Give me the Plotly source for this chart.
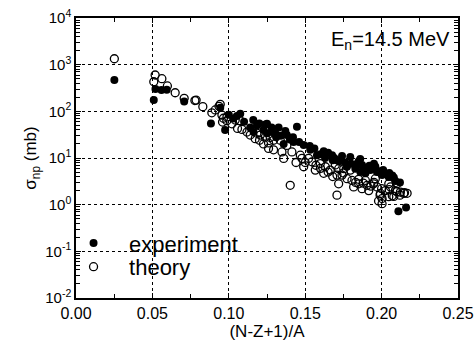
import plotly.graph_objects as go

# experiment (filled)
exp_x = [0.0251, 0.0520, 0.0559, 0.0594, 0.0509, 0.0708,
         0.0883, 0.0976, 0.0944, 0.1075, 0.1053, 0.1184, 0.1250, 0.1227, 0.1282, 0.1304,
         0.1162, 0.1250, 0.1326, 0.1380, 0.1446, 0.1424, 0.1490, 0.1533, 0.1621, 0.1676,
         0.1741, 0.1708, 0.1577, 0.1359, 0.1795, 0.1828, 0.1861, 0.1894, 0.1927, 0.1959,
         0.2003, 0.2047, 0.2080, 0.1773, 0.1872, 0.1959, 0.2110, 0.2160, 0.1240, 0.1100,
         0.1140, 0.1310, 0.1400, 0.1560, 0.1650, 0.1690, 0.1840, 0.1910, 0.1990, 0.2030,
         0.1600, 0.1630, 0.1680, 0.1720, 0.1760, 0.1800, 0.1850, 0.1880, 0.1920, 0.1970,
         0.2010, 0.2050, 0.2070, 0.2090, 0.2120, 0.1860, 0.1950, 0.1530, 0.1460, 0.1420,
         0.1340, 0.1370, 0.1280, 0.1200, 0.1160, 0.1030, 0.1000]
exp_y = [470, 300, 285, 290, 175, 162,
         55, 40, 120, 89, 79, 50, 54, 40, 36, 34,
         36, 34, 45, 31, 47, 22, 19, 15, 14, 11.5,
         11, 8.9, 11.5, 20, 10.5, 5.9, 5.0, 4.7, 5.5, 5.9,
         4.3, 3.9, 3.8, 6.5, 7.1, 6.6, 0.72, 0.87, 52, 60,
         45, 28, 25, 16, 13, 10, 7.5, 6.2, 5.2, 4.6,
         12, 10, 9, 8.5, 8, 7.5, 8.5, 6, 6.8, 5.0,
         5.5, 4.8, 4.2, 3.2, 3.0, 9.5, 7.5, 18, 22, 28,
         30, 38, 45, 55, 65, 70, 85]

# theory (open)
th_x = [0.0251, 0.0518, 0.0509, 0.0562, 0.0598, 0.0649, 0.0708, 0.0778, 0.0830,
        0.0786, 0.0889, 0.0911, 0.0944, 0.0955, 0.0965, 0.0987, 0.1020, 0.1042, 0.1057,
        0.1086, 0.1075, 0.1119, 0.1140, 0.1173, 0.1201, 0.1227, 0.1260, 0.1260, 0.1293,
        0.1206, 0.1239, 0.1271, 0.1184, 0.0936, 0.0959, 0.0988,
        0.1293, 0.1348, 0.1337, 0.1413, 0.1468, 0.1479, 0.1490, 0.1522, 0.1544, 0.1566,
        0.1599, 0.1621, 0.1632, 0.1664, 0.1697, 0.1708, 0.1741, 0.1752, 0.1402, 0.1359,
        0.1380, 0.1719, 0.1774, 0.1806, 0.1817, 0.1850, 0.1872, 0.1905, 0.1916, 0.1948,
        0.1970, 0.1992, 0.2003, 0.2025, 0.2058, 0.2090, 0.2123, 0.2145, 0.2047, 0.2003,
        0.1719, 0.1708, 0.1795, 0.1894, 0.1959, 0.2047, 0.2101, 0.2167, 0.1440, 0.1600,
        0.1680, 0.1830, 0.1880, 0.1930, 0.1990, 0.2070, 0.2120,
        0.1500, 0.1570, 0.1650, 0.1750, 0.1850, 0.1950, 0.2000, 0.2050, 0.2100, 0.2150,
        0.2080, 0.1980]
th_y = [1340, 600, 430, 500, 350, 250, 190, 170, 126,
        174, 93, 107, 141, 83, 71, 63, 54, 65, 43,
        41, 63, 36, 31, 26, 24, 20, 21, 16, 15,
        31, 28, 27.5, 34, 128, 59, 76,
        24, 13.5, 24, 13.5, 11.5, 9.8, 6.5, 9.8, 8.3, 5.5,
        7.6, 4.7, 6.5, 5.5, 7.1, 4.3, 4.3, 5.9, 2.6, 9.8,
        18.6, 5.9, 3.6, 3.3, 2.4, 2.8, 2.2, 2.6, 2.0, 2.8,
        2.4, 1.74, 1.35, 2.0, 2.4, 2.0, 1.86, 1.74, 1.48, 1.05,
        2.8, 1.6, 5.5, 3.3, 3.6, 2.8, 2.8, 1.75, 8.0, 6.0,
        4.0, 3.0, 2.9, 2.5, 1.6, 1.55, 1.6,
        8.0, 7.0, 5.0, 4.8, 3.5, 3.0, 2.2, 2.1, 1.9, 1.8,
        1.5, 1.2]

ytick_vals = [0.01, 0.1, 1, 10, 100, 1000, 10000]
ytick_text = ["10<sup>-2</sup>", "10<sup>-1</sup>", "10<sup>0</sup>", "10<sup>1</sup>",
              "10<sup>2</sup>", "10<sup>3</sup>", "10<sup>4</sup>"]
xtick_vals = [0.00, 0.05, 0.10, 0.15, 0.20, 0.25]
xtick_text = ["0.00", "0.05", "0.10", "0.15", "0.20", "0.25"]

fig = go.Figure()
fig.add_trace(go.Scatter(x=th_x, y=th_y, mode="markers", name="theory", legend="legend2",
                         marker=dict(symbol="circle-open", size=8,
                                     color="black", line=dict(width=1.3))))
fig.add_trace(go.Scatter(x=exp_x, y=exp_y, mode="markers", name="experiment", legend="legend",
                         marker=dict(symbol="circle", size=8, color="black")))

font = "Liberation Sans, Arial, sans-serif"
leg_common = dict(xanchor="left", yanchor="middle", bgcolor="rgba(0,0,0,0)",
                  font=dict(size=22), itemwidth=61)
fig.update_layout(
    width=475, height=346,
    margin=dict(l=76, r=17, t=18, b=48),
    paper_bgcolor="white", plot_bgcolor="white",
    font=dict(family=font, size=16, color="black"),
    showlegend=True,
    legend=dict(x=-0.047, y=0.196, **leg_common),
    legend2=dict(x=-0.047, y=0.111, **leg_common),
    annotations=[dict(text="E<sub>n</sub>=14.5 MeV", x=0.984, y=0.97,
                      xref="paper", yref="paper", xanchor="right", yanchor="top",
                      showarrow=False, font=dict(size=20))],
)
fig.update_xaxes(range=[0, 0.25], tickvals=xtick_vals, ticktext=xtick_text,
                 ticks="inside", ticklen=5, tickwidth=1, tickcolor="black",
                 showline=True, linecolor="black", linewidth=1.5, mirror="ticks",
                 showgrid=True, gridcolor="black", griddash="dot", gridwidth=1,
                 zeroline=False, automargin=False, tickfont=dict(size=16),
                 minor=dict(tickvals=[0.025, 0.075, 0.125, 0.175, 0.225],
                            ticks="inside", ticklen=4, tickcolor="black", showgrid=False),
                 title=dict(text="(N-Z+1)/A", font=dict(size=17), standoff=2))
fig.update_yaxes(type="log", range=[-2, 4], tickvals=ytick_vals, ticktext=ytick_text,
                 ticks="inside", ticklen=5, tickwidth=1, tickcolor="black",
                 showline=True, linecolor="black", linewidth=1.5, mirror="ticks",
                 showgrid=True, gridcolor="black", griddash="dot", gridwidth=1,
                 zeroline=False, automargin=False, tickfont=dict(size=15),
                 minor=dict(dtick="D1", ticks="inside", ticklen=4, tickcolor="black",
                            tickwidth=1, showgrid=False),
                 title=dict(text="σ<sub>np</sub> (mb)", font=dict(size=17), standoff=4))

fig.write_html("out.html", config={"displayModeBar": False},
               post_script="document.body.style.margin='0px';")
